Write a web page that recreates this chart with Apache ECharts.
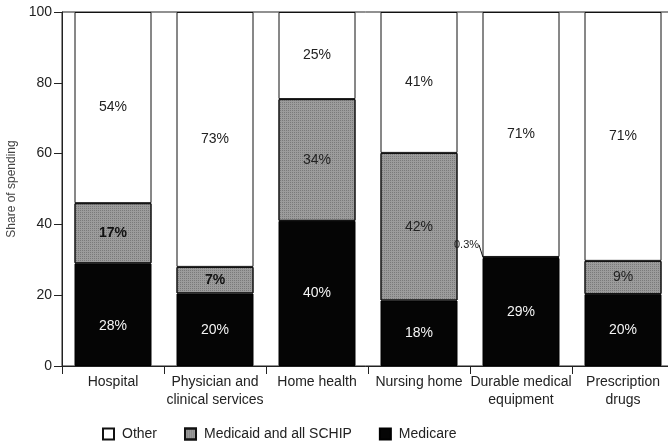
<!DOCTYPE html>
<html><head><meta charset="utf-8">
<script src="https://cdn.jsdelivr.net/npm/echarts@6/dist/echarts.min.js"></script>
<style>html,body{margin:0;padding:0;background:#fff}#c{width:668px;height:446px}</style>
</head><body><div id="c"></div>
<script>
const categories = ['Hospital', 'Physician and\nclinical services', 'Home health', 'Nursing home', 'Durable medical\nequipment', 'Prescription\ndrugs'];
const medicare = [29, 20.5, 41, 18.5, 30.5, 20.3];
const medicaid = [17, 7.5, 34.4, 41.7, 0.3, 9.4];
const other = [54, 72, 24.6, 39.8, 69.2, 70.3];
const medicareLabels = ['28%', '20%', '40%', '18%', '29%', '20%'];
const medicaidLabels = ['17%', '7%', '34%', '42%', '0.3%', '9%'];
const otherLabels = ['54%', '73%', '25%', '41%', '71%', '71%'];
const yTicks = [0, 20, 40, 60, 80, 100];

const font = 'Liberation Sans, Arial, sans-serif';
const chart = echarts.init(document.getElementById('c'));
chart.setOption({
  animation: false,
  textStyle: { fontFamily: font },
  grid: { left: 62, top: 12, width: 612, height: 354, outerBoundsMode: 'none', containLabel: false,
    show: true, borderColor: '#222', borderWidth: 1, backgroundColor: 'transparent' },
  legend: {
    bottom: 0, left: 97, itemWidth: 11, itemHeight: 11, itemGap: 27,
    icon: 'rect',
    textStyle: { fontFamily: font, fontSize: 14, color: '#222', padding: [0, 0, 0, 3] },
    data: ['Other', 'Medicaid and all SCHIP', 'Medicare']
  },
  xAxis: {
    type: 'category', data: categories,
    axisLine: { lineStyle: { color: '#222' } },
    axisTick: { show: true, length: 8, lineStyle: { color: '#222' } },
    axisLabel: { fontFamily: font, fontSize: 14, color: '#222', lineHeight: 18, margin: 7, interval: 0 }
  },
  yAxis: {
    type: 'value', min: yTicks[0], max: yTicks[yTicks.length - 1], interval: 20,
    name: 'Share of spending', nameLocation: 'middle', nameGap: 44, nameRotate: 90,
    nameTextStyle: { fontFamily: font, fontSize: 12, color: '#444' },
    axisLine: { show: true, lineStyle: { color: '#222' } },
    axisTick: { show: true, length: 8, lineStyle: { color: '#222' } },
    axisLabel: { fontFamily: font, fontSize: 14, color: '#222', margin: 10 },
    splitLine: { show: false }
  },
  series: [
    {
      name: 'Medicare', type: 'bar', stack: 's', barWidth: 77,
      data: medicare,
      itemStyle: { color: '#050505', borderColor: '#000', borderWidth: 1 },
      label: { show: true, position: 'inside', color: '#f4f4f4', fontSize: 14, fontFamily: font,
        formatter: p => medicareLabels[p.dataIndex] },
      labelLayout: p => (p.dataIndex === 0 ? { dy: 11 } : {})
    },
    {
      name: 'Medicaid and all SCHIP', type: 'bar', stack: 's', barWidth: 77,
      data: medicaid,
      itemStyle: { color: '#9c9c9c', borderColor: '#111', borderWidth: 1,
        decal: { symbol: 'rect', symbolSize: 1, dashArrayX: [1, 1], dashArrayY: [1, 1], color: 'rgba(60,60,60,0.35)' } },
      label: { show: true, position: 'inside', color: '#222', fontSize: 14, fontFamily: font,
        formatter: p => (p.dataIndex < 2 ? '{b|' + medicaidLabels[p.dataIndex] + '}' : medicaidLabels[p.dataIndex]),
        rich: { b: { fontWeight: 'bold', fontSize: 14, color: '#111', fontFamily: font } } },
      labelLayout: function (p) {
        if (p.dataIndex === 4) {
          return { x: p.rect.x - 16, y: p.rect.y - 12, align: 'center', verticalAlign: 'middle', fontSize: 11 };
        }
        return {};
      },
      labelLine: { show: true, length2: 0, lineStyle: { color: '#111', width: 1 } }
    },
    {
      name: 'Other', type: 'bar', stack: 's', barWidth: 77,
      data: other,
      itemStyle: { color: '#fff', borderColor: '#111', borderWidth: 1 },
      label: { show: true, position: 'inside', color: '#222', fontSize: 14, fontFamily: font,
        formatter: p => otherLabels[p.dataIndex] }
    }
  ]
});
</script></body></html>
